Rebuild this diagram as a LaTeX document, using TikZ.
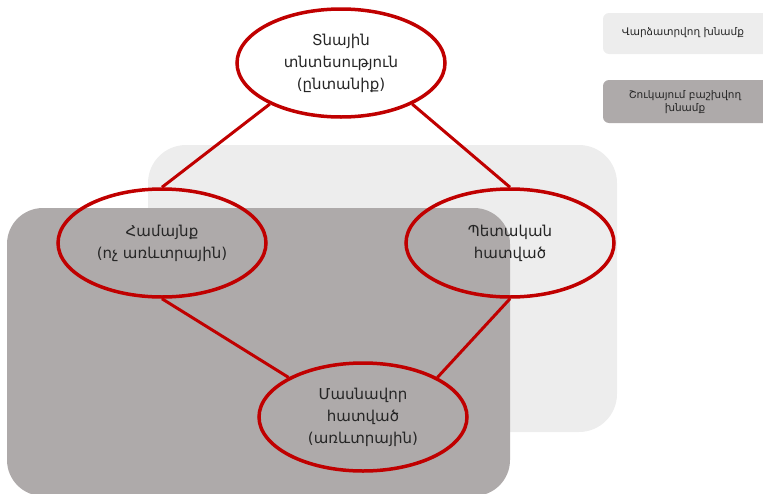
\documentclass[tikz,border=0pt]{standalone}
\usepackage{fontspec}
\setmainfont{DejaVu Sans}
\usetikzlibrary{shapes.geometric}
\definecolor{lightbox}{HTML}{EDEDED}
\definecolor{darkbox}{HTML}{AEAAAA}
\definecolor{ringred}{HTML}{C00000}
\begin{document}
\begin{tikzpicture}[x=1pt,y=-1pt,
  sector/.style={ellipse, draw=ringred, line width=3.5pt, minimum width=208pt, minimum height=108pt, inner sep=0pt, align=center, font=\fontsize{15}{22}\selectfont, text=black!85},
  link/.style={draw=ringred, line width=3pt},
  legendtext/.style={align=center, font=\fontsize{10.5}{13}\selectfont, text=black!85}]
\useasboundingbox (0,0) rectangle (763,493);
\begin{scope}
  \clip (0,0) rectangle (763,493);
  \fill[lightbox, rounded corners=38pt] (148,145) rectangle (617,432);
  \fill[darkbox, rounded corners=36pt] (7,208) rectangle (510,496);
  \fill[lightbox, rounded corners=6pt] (603,13) rectangle (775,54);
  \fill[darkbox, rounded corners=6pt] (603,80) rectangle (775,123);
\end{scope}
\node[legendtext] (lg1) at (683,33) {Վարձատրվող խնամք};
\node[legendtext] (lg2) at (685,102) {Շուկայում բաշխվող\\խնամք};
\node[sector] (home) at (341,63) {Տնային\\տնտեսություն\\(ընտանիք)};
\node[sector] (comm) at (162,243) {Համայնք\\(ոչ առևտրային)};
\node[sector] (state) at (510,243) {Պետական\\հատված};
\node[sector] (priv) at (363,417) {Մասնավոր\\հատված\\(առևտրային)};
\draw[link] (home.210) -- (comm.north);
\draw[link] (home.330) -- (state.north);
\draw[link] (comm.south) -- (priv.152);
\draw[link] (state.south) -- (priv.28);
\end{tikzpicture}
\end{document}
